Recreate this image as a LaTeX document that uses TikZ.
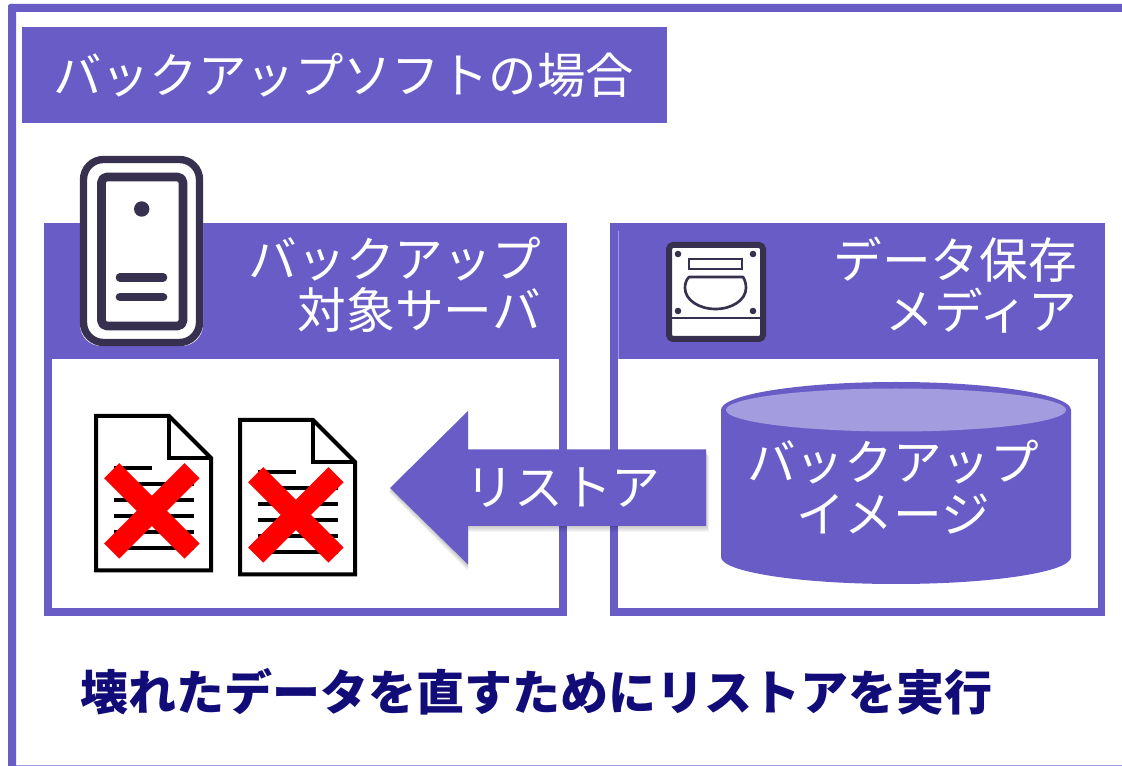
\documentclass[tikz,border=0pt]{standalone}
\usepackage{fontspec}
\setmainfont{Noto Sans CJK JP}
\definecolor{pur}{HTML}{695CC6}
\definecolor{ltpur}{HTML}{A39CDE}
\definecolor{ink}{HTML}{38304F}
\definecolor{navy}{HTML}{110C78}
\tikzset{
  px/.style={x=0.75pt,y=-0.75pt},
  wlabel/.style={text=white,font=\fontsize{36.5}{38.5}\selectfont,align=right,inner sep=0pt},
  clabel/.style={text=white,font=\fontsize{36.5}{39.5}\selectfont,align=center,inner sep=0pt},
  docline/.style={line width=3pt,black},
  cross/.style={line width=16pt,red},
  icon/.style={draw=ink,line join=round}
}
\newcommand{\docicon}[2]{%
\begin{scope}[shift={(#1,#2)}]
  \draw[black,line width=3pt,fill=white,line join=miter] (0,0) -- (73,0) -- (115,42) -- (115,154.5) -- (0,154.5) -- cycle;
  \draw[black,line width=3pt,line join=miter] (73,0) -- (73,42) -- (115,42);
  \foreach \y/\a/\b in {52/18/56,68/18/98,84/18/98,100/18/98,116/18/98,132/18/98}{
    \draw[docline] (\a,\y) -- (\b,\y);
  }
  \draw[cross] (15.7,54.7) -- (96,135);
  \draw[cross] (96,54.7) -- (15.7,135);
\end{scope}}
\begin{document}
\begin{tikzpicture}[px]
\useasboundingbox (0,0) rectangle (1122,766);
\fill[white] (0,0) rectangle (1122,766);
% outer frame
\draw[ltpur,line width=0.8pt] (16,765.5) -- (1122,765.5);
\fill[pur,rounded corners=2pt] (8,4) rectangle (1130,12);
\fill[pur,rounded corners=2pt] (8,4) rectangle (16,780);
% title
\node[fill=pur,minimum width=483.75pt,minimum height=72pt,inner sep=0pt,anchor=north west] (title) at (22,27) {};
\node[text=white,font=\fontsize{36.3}{41}\selectfont,inner sep=0pt] (titletext) at (343.5,75) {バックアップソフトの場合};
% left panel
\fill[pur] (44,223) rectangle (567,616);
\fill[white] (52,359) rectangle (559,608);
% right panel
\fill[pur] (610,223) rectangle (1105,616);
\fill[white] (618,359) rectangle (1098,608);
\draw[ltpur,line width=0.6pt] (618,231) -- (618,359);
% panel labels
\node[wlabel,anchor=east] (lefttext) at (541,285) {バックアップ\\対象サーバ};
\node[wlabel,anchor=east] (righttext) at (1077,285) {データ保存\\メディア};
% server icon
\fill[white,rounded corners=16pt] (80,156) rectangle (203,346);
\draw[icon,line width=5.5pt,rounded corners=15pt] (83.5,159.5) rectangle (199.5,342.5);
\draw[icon,line width=6.5pt,rounded corners=4pt] (101.5,177) rectangle (183,326);
\fill[ink] (141.7,209) circle (7.7);
\draw[ink,line width=6.5pt,line cap=round] (120,277.3) -- (163,277.3);
\draw[ink,line width=6.5pt,line cap=round] (120,297) -- (163,297);
% disk icon
\draw[icon,fill=white,line width=4.5pt,rounded corners=3pt] (669,245) rectangle (763,339);
\draw[ink,line width=1.8pt] (669,318) -- (763,318);
\draw[ink,line width=2pt] (689,259) rectangle (742,269);
\draw[ink,line width=2pt,line join=round] (689,277) -- (743,277) .. controls (745,280) and (746,284) .. (746,288) .. controls (746,300) and (732,309) .. (715.5,309) .. controls (699,309) and (685,300) .. (685,288) .. controls (685,284) and (686,280) .. (689,277) -- cycle;
\foreach \p in {(678,254),(753,254),(678,311),(753,311)}{\fill[ink] \p circle (3.3);}
% documents
\docicon{96}{416}
\docicon{240}{420}
% cylinder
\fill[pur] (721,410) -- (721,557) arc[start angle=-180,end angle=-360,x radius=175,y radius=27] -- (1071,410) arc[start angle=0,end angle=-180,x radius=175,y radius=28] -- cycle;
\fill[ltpur] (896,410) ellipse[x radius=170,y radius=21.5];
\node[clabel] (imgtext) at (893,487) {バックアップ\\イメージ};
% arrow shadow
\foreach \o in {6,5,4,3,2,1}{
  \fill[black,opacity=0.035] (390-\o*0.2,488+\o*0.7) -- (468,411+\o) -- (468,450+\o) -- (706+\o*0.5,450+\o) -- (706+\o*0.5,526+\o) -- (468,526+\o) -- (468,565+\o) -- cycle;
}
\fill[pur] (390,488) -- (468,411) -- (468,449.5) -- (706,449.5) -- (706,526) -- (468,526) -- (468,564.5) -- cycle;
\node[text=white,font=\fontsize{36.6}{41}\selectfont,inner sep=0pt] (arrowtext) at (563,488) {リストア};
% caption
\node[text=navy,font=\bfseries\fontsize{36}{41}\selectfont,inner sep=0pt,anchor=west] (caption) at (80,692) {壊れたデータを直すためにリストアを実行};
\end{tikzpicture}
\end{document}
